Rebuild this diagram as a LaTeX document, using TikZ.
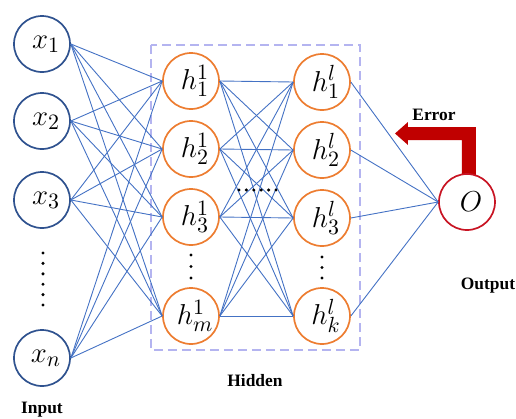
\documentclass[tikz,border=0pt]{standalone}
\usepackage{fontspec}
\newfontfamily\labelfont{Liberation Serif}
\definecolor{inblue}{RGB}{47,82,143}
\definecolor{hidorange}{RGB}{237,125,49}
\definecolor{outred}{RGB}{200,20,35}
\definecolor{linkblue}{RGB}{68,114,196}
\definecolor{boxlav}{RGB}{180,180,240}
\definecolor{arrowred}{RGB}{192,0,0}
\begin{document}
\begin{tikzpicture}[x=0.5pt,y=-0.5pt,
  neuron/.style={circle,minimum size=28pt,inner sep=0pt,line width=0.85pt,
    fill=white,font=\fontsize{15}{18}\selectfont,
    execute at begin node=\hspace*{4pt}},
  innode/.style={neuron,draw=inblue},
  hidnode/.style={neuron,draw=hidorange},
  outnode/.style={neuron,draw=outred},
  link/.style={draw=linkblue,line width=0.45pt},
  caption/.style={font=\labelfont\bfseries\fontsize{8.7}{10}\selectfont},
  dotmark/.style={fill=black}]
\useasboundingbox (0,0) rectangle (516,419);

% hidden-layer frame
\draw[boxlav,line width=1pt,dash pattern=on 4.5pt off 2.5pt] (151,45) rectangle (360,350);

% error feedback arrow
\fill[arrowred] (462,180) -- (462,140) -- (408,140) -- (408,145) -- (395,133.5)
  -- (408,122) -- (408,127) -- (476,127) -- (476,180) -- cycle;

% input layer
\node[innode] (x1) at (42,44)  {$x_1$};
\node[innode] (x2) at (42,121) {$x_2$};
\node[innode] (x3) at (42,200) {$x_3$};
\node[innode] (xn) at (42,358) {$x_n$};

% first hidden layer
\node[hidnode] (h11) at (191,81)  {$h^1_1$};
\node[hidnode] (h12) at (191,149) {$h^1_2$};
\node[hidnode] (h13) at (191,217) {$h^1_3$};
\node[hidnode] (h1m) at (191,316) {$h^1_m$};

% last hidden layer
\node[hidnode] (hl1) at (322,82)  {$h^l_1$};
\node[hidnode] (hl2) at (322,150) {$h^l_2$};
\node[hidnode] (hl3) at (322,218) {$h^l_3$};
\node[hidnode] (hlk) at (322,316) {$h^l_k$};

% output
\node[outnode] (O) at (467,202) {$O$};

% connections
\foreach \a in {x1,x2,x3,xn}
  \foreach \b in {h11,h12,h13,h1m}
    \draw[link] (\a.east) -- (\b.west);
\foreach \a in {h11,h12,h13,h1m}
  \foreach \b in {hl1,hl2,hl3,hlk}
    \draw[link] (\a.east) -- (\b.west);
\foreach \a in {hl1,hl2,hl3,hlk}
  \draw[link] (\a.east) -- (O.west);

% ellipsis dots
\foreach \y in {253,263.4,273.8,284.2,294.6,305}
  \fill[dotmark] (43,\y) circle (0.85pt);
\foreach \y in {255,266.5,278}
  \fill[dotmark] (191,\y) circle (0.85pt);
\foreach \y in {257,267.5,278}
  \fill[dotmark] (322,\y) circle (0.85pt);
\foreach \x in {239,246.4,253.8,261.2,268.6,276}
  \fill[dotmark] (\x,190) circle (0.85pt);

% captions
\node[caption] (lin)  at (42,410)  {Input};
\node[caption] (lhid) at (255,381) {Hidden};
\node[caption] (lout) at (488,286) {Output};
\node[caption] (lerr) at (434,115) {Error};
\end{tikzpicture}
\end{document}
